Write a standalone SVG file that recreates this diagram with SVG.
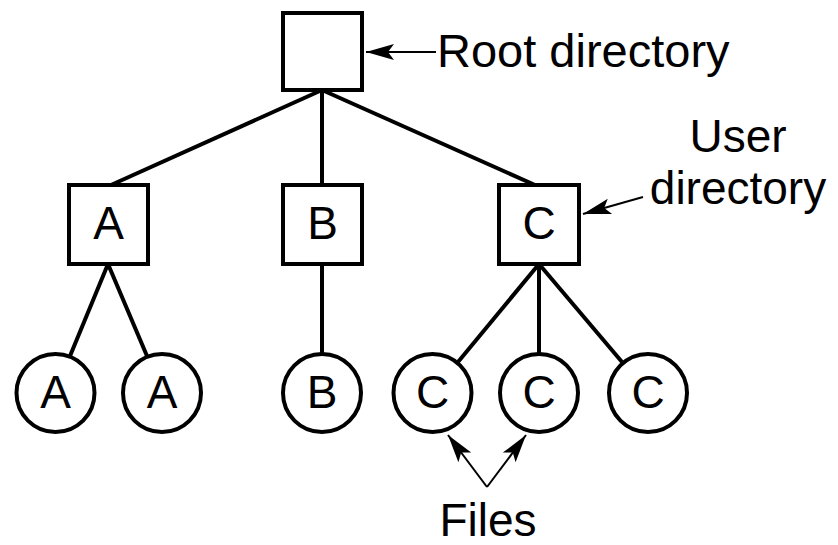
<svg xmlns="http://www.w3.org/2000/svg" width="838" height="545" viewBox="0 0 838 545">
<style>
.n{fill:#fff;stroke:#000;stroke-width:4}
.e{stroke:#000;stroke-width:4;fill:none}
.a{stroke:#000;stroke-width:2;fill:none;marker-end:url(#ah)}
text{font-family:"Liberation Sans",Arial,sans-serif;font-size:46px;fill:#000}
.c{text-anchor:middle}
</style>
<defs>
<marker id="ah" markerUnits="userSpaceOnUse" markerWidth="30" markerHeight="18" refX="28" refY="8" orient="auto" overflow="visible">
<path d="M0,0 L28,8 L0,16 L6,8 z" fill="#000"/>
</marker>
</defs>
<g id="connectors">
<line class="e" x1="322" y1="90" x2="111" y2="185"/>
<line class="e" x1="322" y1="90" x2="322" y2="185"/>
<line class="e" x1="322" y1="90" x2="535" y2="185"/>
<line class="e" x1="108" y1="264" x2="70" y2="356"/>
<line class="e" x1="108" y1="264" x2="147" y2="356"/>
<line class="e" x1="322" y1="264" x2="322" y2="354"/>
<line class="e" x1="539" y1="264" x2="458" y2="362"/>
<line class="e" x1="539" y1="264" x2="539" y2="354"/>
<line class="e" x1="539" y1="264" x2="622" y2="362"/>
<line class="a" x1="436" y1="52" x2="366" y2="52"/>
<line class="a" x1="643" y1="197" x2="583" y2="214"/>
<line class="a" x1="487" y1="487" x2="448" y2="435"/>
<line class="a" x1="487" y1="487" x2="526" y2="435"/>
</g>
<g id="root"><rect class="n" x="283" y="13" width="79" height="77"/></g>
<g id="dirA"><rect class="n" x="69" y="185" width="79" height="79"/><text class="c" x="108.5" y="239">A</text></g>
<g id="dirB"><rect class="n" x="283" y="185" width="79" height="79"/><text class="c" x="322.5" y="239">B</text></g>
<g id="dirC"><rect class="n" x="499" y="185" width="80" height="79"/><text class="c" x="539" y="239">C</text></g>
<g id="fileA1"><circle class="n" cx="55.5" cy="393" r="39"/><text class="c" x="55.5" y="408">A</text></g>
<g id="fileA2"><circle class="n" cx="162" cy="393" r="39"/><text class="c" x="162" y="408">A</text></g>
<g id="fileB"><circle class="n" cx="322" cy="393" r="39"/><text class="c" x="322" y="408">B</text></g>
<g id="fileC1"><circle class="n" cx="432.5" cy="393" r="39"/><text class="c" x="432.5" y="408">C</text></g>
<g id="fileC2"><circle class="n" cx="539" cy="393" r="39"/><text class="c" x="539" y="408">C</text></g>
<g id="fileC3"><circle class="n" cx="648" cy="393" r="39"/><text class="c" x="648" y="408">C</text></g>
<g id="labels">
<text x="437" y="67" style="font-size:47px">Root directory</text>
<text class="c" x="738" y="152">User</text>
<text class="c" x="738" y="204">directory</text>
<text class="c" x="488" y="536">Files</text>
</g>
</svg>
